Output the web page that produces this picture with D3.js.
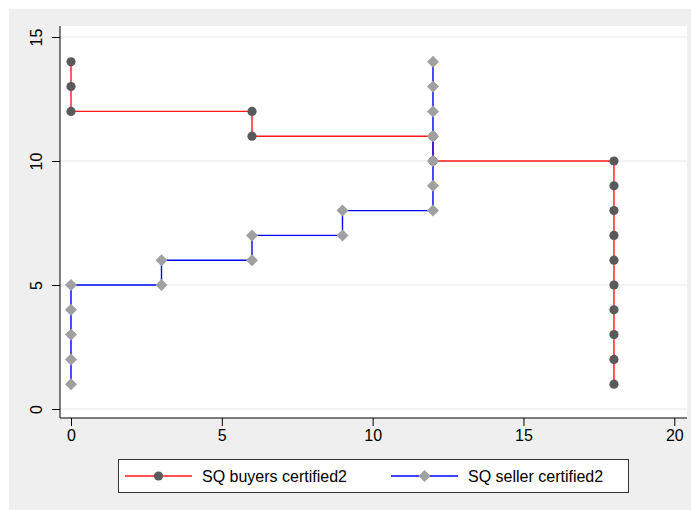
<!DOCTYPE html>
<html>
<head>
<meta charset="utf-8">
<script src="https://cdn.jsdelivr.net/npm/d3@7"></script>
<style>
  body { margin: 0; background: #fff; }
  svg { display: block; font-family: Arial, "Liberation Sans", sans-serif; }
</style>
</head>
<body>
<svg id="chart" width="691" height="510"></svg>
<script>
// data
const buyerX = [0, 0, 0, 6, 6, 12, 12, 18, 18, 18, 18, 18, 18, 18, 18, 18, 18];
const buyerY = [14, 13, 12, 12, 11, 11, 10, 10, 9, 8, 7, 6, 5, 4, 3, 2, 1];
const sellerX = [0, 0, 0, 0, 0, 3, 3, 6, 6, 9, 9, 12, 12, 12, 12, 12, 12, 12];
const sellerY = [1, 2, 3, 4, 5, 5, 6, 6, 7, 7, 8, 8, 9, 10, 11, 12, 13, 14];
const xTicks = [0, 5, 10, 15, 20];
const yTicks = [0, 5, 10, 15];
const seriesNames = ["SQ buyers certified2", "SQ seller certified2"];

const svg = d3.select("#chart");

// gray background
svg.append("rect").attr("x", 9).attr("y", 9).attr("width", 682).attr("height", 501).attr("fill", "#efefef");

const plotLeft = 60, plotRight = 687, plotTop = 26, plotBottom = 418;
svg.append("rect")
  .attr("x", plotLeft).attr("y", plotTop)
  .attr("width", plotRight - plotLeft).attr("height", plotBottom - plotTop)
  .attr("fill", "#fff");

const xScale = d3.scaleLinear().domain([0, 20]).range([71, 674.3]);
const yScale = d3.scaleLinear().domain([0, 15]).range([409, 37]);

// gridlines
svg.append("g").selectAll("line")
  .data(yTicks)
  .enter().append("line")
  .attr("x1", plotLeft).attr("x2", plotRight)
  .attr("y1", d => yScale(d)).attr("y2", d => yScale(d))
  .attr("stroke", "#e6e6e6").attr("stroke-width", 1);

// axes
let xAxis = d3.axisBottom(xScale).tickValues(xTicks).tickSize(8).tickPadding(4).tickSizeOuter(0);
let yAxis = d3.axisLeft(yScale).tickValues(yTicks).tickSize(8).tickSizeOuter(0);

const gx = svg.append("g")
  .attr("transform", `translate(0, ${plotBottom})`)
  .call(xAxis);
gx.select(".domain").remove();
gx.selectAll("text").attr("font-size", 16).attr("fill", "#000").attr("font-family", "Arial, 'Liberation Sans', sans-serif");
gx.selectAll("line").attr("stroke", "#000");
svg.append("line").attr("x1", plotLeft).attr("x2", plotRight).attr("y1", plotBottom).attr("y2", plotBottom).attr("stroke", "#000");

const gy = svg.append("g")
  .attr("transform", `translate(${plotLeft}, 0)`)
  .call(yAxis);
gy.select(".domain").remove();
gy.selectAll("line").attr("stroke", "#000");
gy.selectAll("text")
  .attr("font-size", 16).attr("fill", "#000")
  .attr("font-family", "Arial, 'Liberation Sans', sans-serif")
  .attr("text-anchor", "middle")
  .attr("x", null)
  .attr("transform", "translate(-24, 0) rotate(-90)")
  .attr("y", 0)
  .attr("dy", "0.35em");
svg.append("line").attr("x1", plotLeft).attr("x2", plotLeft).attr("y1", plotTop).attr("y2", plotBottom).attr("stroke", "#000");

// series
const series = [
  { x: buyerX, y: buyerY, line: "#ff1a1a", fill: "#5a5a5a", shape: "circle" },
  { x: sellerX, y: sellerY, line: "#0000ff", fill: "#a0a0a0", shape: "diamond" }
];

const lineGen = d3.line().x(d => xScale(d[0])).y(d => yScale(d[1]));

function drawMarker(g, shape, fill, cx, cy) {
  if (shape === "circle") {
    g.append("circle").attr("cx", cx).attr("cy", cy).attr("r", 4.6).attr("fill", fill);
  } else {
    const r = 6;
    g.append("path")
      .attr("d", `M${cx},${cy - r}L${cx + r},${cy}L${cx},${cy + r}L${cx - r},${cy}Z`)
      .attr("fill", fill);
  }
}

series.forEach(s => {
  const pts = s.x.map((v, i) => [v, s.y[i]]);
  const g = svg.append("g");
  g.append("path")
    .attr("d", lineGen(pts))
    .attr("fill", "none")
    .attr("stroke", s.line)
    .attr("stroke-width", 1.4);
  pts.forEach(p => drawMarker(g, s.shape, s.fill, xScale(p[0]), yScale(p[1])));
});

// legend
const legend = svg.append("g");
legend.append("rect")
  .attr("x", 118.5).attr("y", 459.5).attr("width", 510).attr("height", 33)
  .attr("fill", "#fff").attr("stroke", "#333").attr("stroke-width", 1);

const legendItems = [
  { x1: 125, x2: 192, tx: 202 },
  { x1: 391, x2: 458, tx: 468 }
];
legendItems.forEach((li, i) => {
  const s = series[i];
  const ly = 476;
  legend.append("line").attr("x1", li.x1).attr("x2", li.x2).attr("y1", ly).attr("y2", ly)
    .attr("stroke", s.line).attr("stroke-width", 1.4);
  drawMarker(legend, s.shape, s.fill, (li.x1 + li.x2) / 2, ly);
  legend.append("text")
    .attr("x", li.tx).attr("y", ly).attr("dy", "0.35em")
    .attr("font-size", 16).attr("fill", "#000")
    .text(seriesNames[i]);
});
</script>
</body>
</html>
